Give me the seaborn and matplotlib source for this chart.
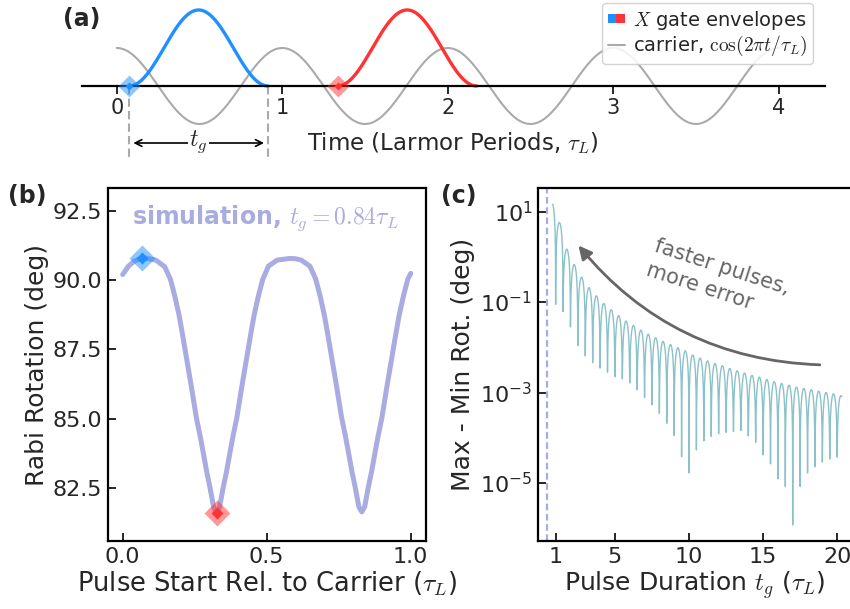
import numpy as np
import pandas as pd
import matplotlib
matplotlib.use("Agg")
import matplotlib.pyplot as plt
import seaborn as sns
from matplotlib.patches import Patch, FancyArrowPatch
from matplotlib.lines import Line2D
from matplotlib.legend_handler import HandlerTuple
from matplotlib.ticker import NullLocator

# ------------------------------------------------------------------ data
# panel (a): carrier and two X-gate envelopes
carrier_t_max = 4.0
gate_duration = 0.84
gate_starts = [0.075, 1.335]
envelope_peak = 2.0
a_xticks = [0, 1, 2, 3, 4]

# panel (b): Rabi rotation vs pulse start
b_start = [0.000, 0.020, 0.040, 0.068, 0.090, 0.115, 0.146, 0.166, 0.181,
           0.196, 0.208, 0.221, 0.239, 0.256, 0.269, 0.281, 0.291, 0.303,
           0.316, 0.326, 0.336, 0.349, 0.361, 0.371, 0.383, 0.396, 0.413,
           0.431, 0.444, 0.456, 0.471, 0.486, 0.506, 0.536, 0.580, 0.600,
           0.620, 0.650, 0.670, 0.685, 0.700, 0.712, 0.725, 0.743, 0.760,
           0.773, 0.785, 0.795, 0.807, 0.820, 0.830, 0.840, 0.853, 0.865,
           0.875, 0.887, 0.900, 0.917, 0.935, 0.948, 0.960, 0.975, 0.990,
           1.000]
b_rot = [90.20, 90.50, 90.68, 90.80, 90.77, 90.72, 90.48, 90.02, 89.42,
         88.72, 88.02, 87.22, 86.12, 85.02, 84.37, 83.70, 83.12, 82.52,
         81.80, 81.60, 81.80, 82.52, 83.12, 83.70, 84.37, 85.02, 86.12,
         87.22, 88.02, 88.72, 89.42, 90.02, 90.50, 90.72, 90.78, 90.77,
         90.72, 90.50, 90.04, 89.44, 88.74, 88.04, 87.24, 86.14, 85.04,
         84.39, 83.72, 83.14, 82.54, 81.82, 81.64, 81.82, 82.54, 83.14,
         83.72, 84.39, 85.04, 86.14, 87.24, 88.04, 88.74, 89.44, 90.04,
         90.24]
b_best = (0.068, 90.80)
b_worst = (0.326, 81.60)
b_yticks = [82.5, 85.0, 87.5, 90.0, 92.5]
b_xticks = [0.0, 0.5, 1.0]

# panel (c): max - min rotation vs pulse duration (log10 values)
c_start = (0.80, 1.19)          # first partial arch (t, log10 peak)
c_dip_t = [1.0, 1.5, 2.0, 2.5, 3.0, 3.5, 4.0, 4.5, 5.0, 5.5, 6.0, 6.5, 7.0,
           7.5, 8.0, 8.5, 9.0, 9.5, 10.0, 10.5, 11.0, 11.5, 12.0, 12.5, 13.0,
           13.5, 14.0, 14.5, 15.0, 15.5, 16.0, 16.5, 17.0, 17.5, 18.0, 18.5,
           19.0, 19.5, 20.0]
c_dip_log = [-1.05, -1.21, -1.55, -1.96, -2.19, -2.34, -2.46, -2.55, -2.65,
             -2.70, -2.79, -2.94, -3.11, -3.27, -3.46, -3.68, -3.95, -4.42,
             -4.78, -4.27, -4.07, -3.97, -3.91, -3.88, -3.86, -3.84, -3.96,
             -4.10, -4.38, -4.58, -4.91, -5.08, -5.93, -5.08, -4.78, -4.64,
             -4.54, -4.47, -4.43]
c_peak_log = [0.76, 0.17, -0.17, -0.45, -0.68, -0.86, -1.03, -1.17, -1.30,
              -1.42, -1.52, -1.62, -1.71, -1.79, -1.87, -1.94, -2.01, -2.08,
              -2.17, -2.24, -2.30, -2.36, -2.41, -2.47, -2.52, -2.57, -2.62,
              -2.66, -2.71, -2.76, -2.80, -2.84, -2.88, -2.91, -2.94, -2.97,
              -3.00, -3.03]
c_end = (20.3, -3.07)           # last partial arch (t, log10 peak)
c_marked_tg = 0.39
c_xticks = [1, 5, 10, 15, 20]
c_yticks = [1e1, 1e-1, 1e-3, 1e-5]
c_yticklabels = [r"$\mathdefault{10^{1}}$", r"$\mathdefault{10^{-1}}$",
                 r"$\mathdefault{10^{-3}}$", r"$\mathdefault{10^{-5}}$"]

# ------------------------------------------------------------------ style
sns.set_theme(style="ticks")
plt.rcParams["font.family"] = ["DejaVu Sans"]
plt.rcParams["mathtext.fontset"] = "cm"
plt.rcParams["axes.linewidth"] = 1.6
plt.rcParams["axes.edgecolor"] = "black"

BLUE = "#1e90ff"
RED = "#ff3333"
GREY = "#aaaaaa"
LAV = "#a8ace0"
TEAL = "#8bc2ca"

W, H = 850, 609
fig = plt.figure(figsize=(8.5, 6.09), dpi=100)


def rect(l, t, r, b):
    return [l / W, 1 - b / H, (r - l) / W, (b - t) / H]


axA = fig.add_axes(rect(82, 2, 825, 162))
axB = fig.add_axes(rect(108, 188, 426, 541))
axC = fig.add_axes(rect(538, 188, 852, 541))

# ------------------------------------------------------------------ panel (a)
t_car = np.linspace(0, carrier_t_max, 600)
df_car = pd.DataFrame({"t": t_car, "y": np.cos(2 * np.pi * t_car)})
sns.lineplot(data=df_car, x="t", y="y", ax=axA, color=GREY, lw=1.5,
             estimator=None, sort=False)
for start, col in zip(gate_starts, [BLUE, RED]):
    te = np.linspace(start, start + gate_duration, 200)
    ye = envelope_peak * np.sin(np.pi * (te - start) / gate_duration) ** 2
    sns.lineplot(x=te, y=ye, ax=axA, color=col, lw=2.4, estimator=None,
                 sort=False)
    axA.plot([start], [0], marker="D", ms=11, color=col, alpha=0.5, mec="none",
             zorder=5)
    axA.plot([start], [0], marker="D", ms=4, color=col, mec="none", zorder=6)

s0 = gate_starts[0]
for xv in [s0, s0 + gate_duration]:
    axA.plot([xv, xv], [0, -1.86], color=GREY, lw=1.5, ls=(0, (4, 2)),
             zorder=1)
axA.annotate("", xy=(s0, -1.5), xytext=(s0 + gate_duration, -1.5),
             arrowprops=dict(arrowstyle="<->", lw=1.2, color="black",
                             shrinkA=3, shrinkB=3))
axA.text(s0 + gate_duration / 2, -1.47, r"$t_g$", ha="center", va="center",
         fontsize=17, bbox=dict(fc="white", ec="none", pad=1))
axA.text(2.03, -1.5, r"Time (Larmor Periods, $\tau_L$)", ha="center",
         va="center", fontsize=16.5)

axA.set_xlim(-0.21, 4.28)
axA.set_ylim(-2.0, 2.21)
for side in ["top", "right", "left"]:
    axA.spines[side].set_visible(False)
axA.spines["bottom"].set_position(("data", 0))
axA.spines["bottom"].set_linewidth(1.6)
axA.set_yticks([])
axA.set_xticks(a_xticks)
axA.set_xticklabels([str(v) for v in a_xticks])
axA.tick_params(axis="x", direction="out", length=6, width=1.4, labelsize=15,
                pad=3)
axA.set_xlabel("")
axA.set_ylabel("")
axA.patch.set_alpha(0)

handles = [(Patch(facecolor=BLUE, edgecolor="none"),
            Patch(facecolor=RED, edgecolor="none")),
           Line2D([], [], color=GREY, lw=1.5)]
labels = [r"$X$ gate envelopes", r"carrier, $\cos(2\pi t/\tau_L)$"]
fig.legend(handles, labels, handler_map={tuple: HandlerTuple(ndivide=None, pad=0)},
           loc="upper right", bbox_to_anchor=(813 / W, 1 - 3 / H),
           bbox_transform=fig.transFigure, borderaxespad=0, fontsize=14,
           handlelength=0.9, handleheight=0.35, handletextpad=0.4,
           borderpad=0.3, labelspacing=0.1, frameon=True, fancybox=True,
           edgecolor="#cccccc", framealpha=0.85)

# ------------------------------------------------------------------ panel (b)
df_b = pd.DataFrame({"start": b_start, "rot": b_rot})
sns.lineplot(data=df_b, x="start", y="rot", ax=axB, color=LAV, lw=3.6,
             estimator=None, sort=False)
for (px, py), col in zip([b_best, b_worst], [BLUE, RED]):
    axB.plot([px], [py], marker="D", ms=13, color=col, alpha=0.5, mec="none",
             zorder=5)
    axB.plot([px], [py], marker="D", ms=6, color=col, mec="none", zorder=6)
axB.text(0.494, 92.24, r"simulation, $t_g = 0.84\tau_L$", color=LAV,
         fontsize=17, fontweight="bold", ha="center", va="center")
axB.set_xlim(-0.051, 1.053)
axB.set_ylim(80.59, 93.32)
axB.set_xticks(b_xticks)
axB.set_xticklabels(["0.0", "0.5", "1.0"])
axB.set_yticks(b_yticks)
axB.set_yticklabels(["82.5", "85.0", "87.5", "90.0", "92.5"])
axB.tick_params(direction="in", length=6, width=1.4, labelsize=16, pad=4)
axB.set_xlabel(r"Pulse Start Rel. to Carrier ($\tau_L$)", fontsize=18.5,
               labelpad=2)
axB.set_ylabel("Rabi Rotation (deg)", fontsize=18, labelpad=3)

# ------------------------------------------------------------------ panel (c)
def arch(t0, t1, peak_log, dl_log, dr_log, u0=0.0, u1=1.0, n=41):
    u = np.linspace(u0, u1, n)
    p = 10.0 ** peak_log
    d = (1 - u) * 10.0 ** dl_log + u * 10.0 ** dr_log
    return t0 + u * (t1 - t0), np.sqrt((p * np.sin(np.pi * u)) ** 2 + d ** 2)

ct, cy = [], []
t_a, y_a = arch(0.5, 1.0, c_start[1], c_dip_log[0], c_dip_log[0], u0=0.6, n=20)
ct += list(t_a); cy += list(y_a)
for k in range(len(c_peak_log)):
    t_a, y_a = arch(c_dip_t[k], c_dip_t[k + 1], c_peak_log[k], c_dip_log[k],
                    c_dip_log[k + 1])
    ct += list(t_a[1:]); cy += list(y_a[1:])
t_a, y_a = arch(c_dip_t[-1], c_dip_t[-1] + 0.5, c_end[1], c_dip_log[-1],
                c_dip_log[-1], u1=(c_end[0] - c_dip_t[-1]) / 0.5, n=25)
ct += list(t_a[1:]); cy += list(y_a[1:])
df_c = pd.DataFrame({"tg": ct, "diff": cy})
axC.set_yscale("log")
sns.lineplot(data=df_c, x="tg", y="diff", ax=axC, color=TEAL, lw=1.0,
             estimator=None, sort=False)
axC.axvline(c_marked_tg, color=LAV, lw=1.6, ls=(0, (3, 1.6)), zorder=1)
axC.set_xlim(-0.19, 21.0)
axC.set_ylim(10 ** -6.285, 10 ** 1.524)
axC.set_yticks(c_yticks)
axC.set_yticklabels(c_yticklabels)
axC.yaxis.set_minor_locator(NullLocator())
axC.set_xticks(c_xticks)
axC.set_xticklabels([str(v) for v in c_xticks])
axC.tick_params(direction="in", length=6, width=1.4, labelsize=16, pad=4)
axC.set_xlabel(r"Pulse Duration $t_g$ ($\tau_L$)", fontsize=18, labelpad=2)
axC.set_ylabel("Max - Min Rot. (deg)", fontsize=18, labelpad=4)

arr = FancyArrowPatch((19.02, 10 ** -2.39), (2.42, 10 ** 0.30),
                      connectionstyle="arc3,rad=-0.23", arrowstyle="-|>",
                      mutation_scale=20, lw=2.0, color="#666666")
axC.add_patch(arr)
axC.text(11.95, 10 ** -0.50, "faster pulses,\nmore error", rotation=-18,
         rotation_mode="anchor", ha="center", va="center", multialignment="left",
         fontsize=15, color="#666666", family="DejaVu Sans", linespacing=1.3)

# ------------------------------------------------------------------ panel labels
fig.text(82 / W, 1 - 19 / H, "(a)", fontsize=17, fontweight="bold",
         ha="center", va="center")
fig.text(27 / W, 1 - 196 / H, "(b)", fontsize=17, fontweight="bold",
         ha="center", va="center")
fig.text(459 / W, 1 - 196 / H, "(c)", fontsize=17, fontweight="bold",
         ha="center", va="center")

fig.savefig("out.png", dpi=100)
